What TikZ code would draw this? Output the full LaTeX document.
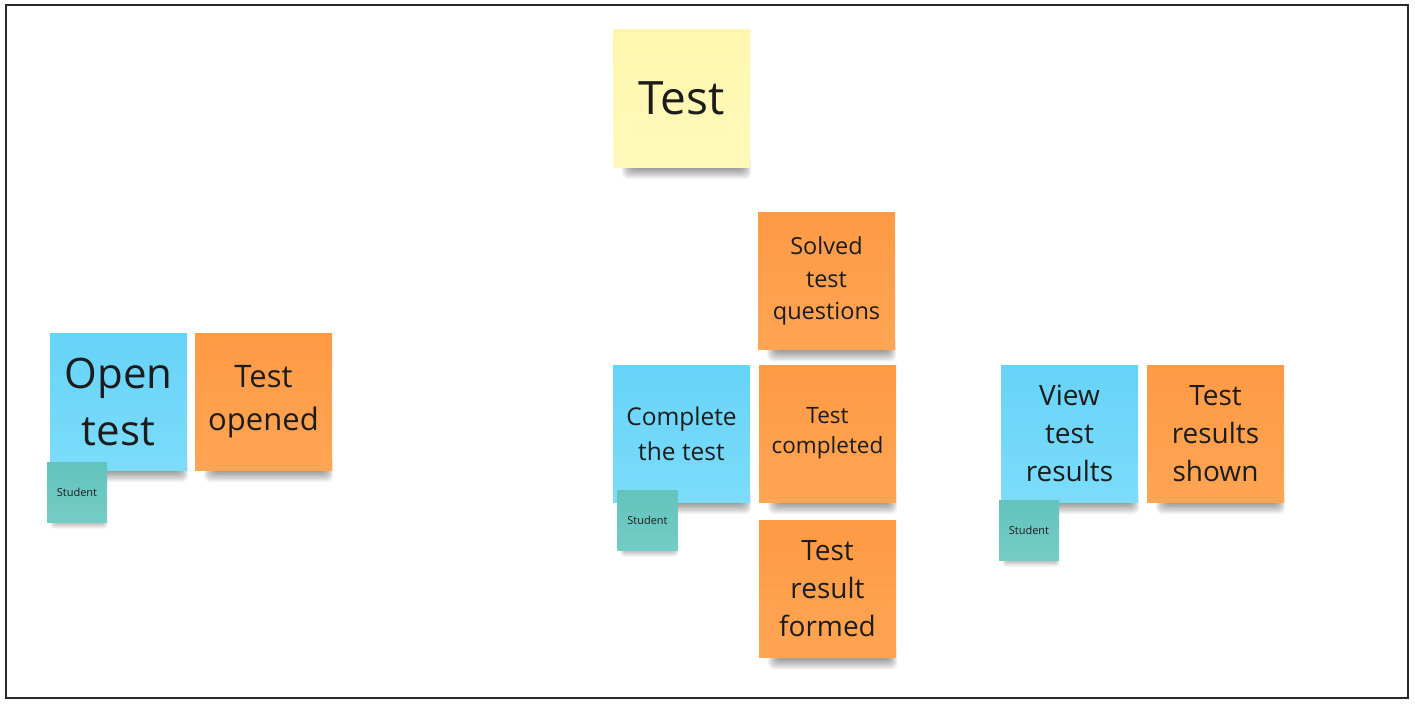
\documentclass[tikz,border=0pt]{standalone}
\usepackage{fontspec}
\setmainfont{Open Sans}
\pgfdeclarelayer{bgzero}
\pgfdeclarelayer{shadowlayer}
\pgfsetlayers{bgzero,shadowlayer,main}
\definecolor{frameC}{HTML}{2A2A2A}
\definecolor{txtC}{HTML}{1C1C1C}
\definecolor{yelT}{HTML}{FFF7AE}
\definecolor{yelB}{HTML}{FFF9BA}
\definecolor{bluT}{HTML}{66D3F8}
\definecolor{bluB}{HTML}{7CDCFA}
\definecolor{oraT}{HTML}{FF9A45}
\definecolor{oraB}{HTML}{FFA553}
\definecolor{tealT}{HTML}{63C3BC}
\definecolor{tealB}{HTML}{74CCC6}
\tikzset{
  sticky/.style={rectangle, minimum width=137pt, minimum height=137pt, inner sep=0pt,
    align=center, text=txtC},
  yellownote/.style={sticky, top color=yelT, bottom color=yelB},
  bluenote/.style={sticky, top color=bluT, bottom color=bluB},
  orangenote/.style={sticky, top color=oraT, bottom color=oraB},
  tealnote/.style={rectangle, minimum width=60pt, minimum height=60pt, inner sep=0pt,
    align=center, text=txtC, top color=tealT, bottom color=tealB,
    font=\fontsize{11}{14}\selectfont},
  shadowpiece/.style={fill=black, opacity=0.055, rounded corners=6pt},
}
\begin{document}
\begin{tikzpicture}[x=1pt,y=-1pt]
\useasboundingbox (0,0) rectangle (1415,706);
\begin{pgfonlayer}{bgzero}
\fill[white] (0,0) rectangle (1415,706);
\end{pgfonlayer}
\draw[frameC, line width=2pt] (6,5) rectangle (1408,698);

\node[yellownote, font=\fontsize{46}{62}\selectfont] (test) at (681.5,98.5) {Test};

\node[bluenote, font=\fontsize{42}{57}\selectfont] (open) at (118.5,401.5) {Open\\test};
\node[orangenote, font=\fontsize{31}{43}\selectfont] (opened) at (263.5,401.5) {Test\\opened};
\node[tealnote] (stud1) at (77,492) {Student};

\node[orangenote, font=\fontsize{23.5}{32.5}\selectfont] (solved) at (826.5,281) {Solved\\test\\questions};
\node[bluenote, font=\fontsize{24.5}{35}\selectfont] (complete) at (681.5,433.5) {Complete\\the test};
\node[orangenote, font=\fontsize{22.5}{30}\selectfont] (completed) at (827.5,433.5) {Test\\completed};
\node[tealnote] (stud2) at (647.5,520) {Student};
\node[orangenote, font=\fontsize{28}{38}\selectfont] (formed) at (827.5,589) {Test\\result\\formed};

\node[bluenote, font=\fontsize{28}{38}\selectfont] (view) at (1069.5,433.5) {View\\test\\results};
\node[orangenote, font=\fontsize{28}{38}\selectfont] (shown) at (1215.5,433.5) {Test\\results\\shown};
\node[tealnote] (stud3) at (1029,530) {Student};

\begin{pgfonlayer}{shadowlayer}
\foreach \n in {test,open,opened,solved,complete,completed,formed,view,shown}{
  \foreach \i in {1,...,8}{
    \fill[shadowpiece] ([xshift={(8+\i*1.2)*1pt}, yshift=12pt]\n.south west)
      rectangle ([xshift={(2-\i*1.0)*1pt}, yshift={(1.4*\i-13)*1pt}]\n.south east);
  }
}
\foreach \n in {stud1,stud2,stud3}{
  \foreach \i in {1,...,5}{
    \fill[shadowpiece, rounded corners=3pt] ([xshift={(3+\i*0.8)*1pt}, yshift=8pt]\n.south west)
      rectangle ([xshift={(1-\i*0.8)*1pt}, yshift={(1.2*\i-7.5)*1pt}]\n.south east);
  }
}
\end{pgfonlayer}
\end{tikzpicture}
\end{document}
